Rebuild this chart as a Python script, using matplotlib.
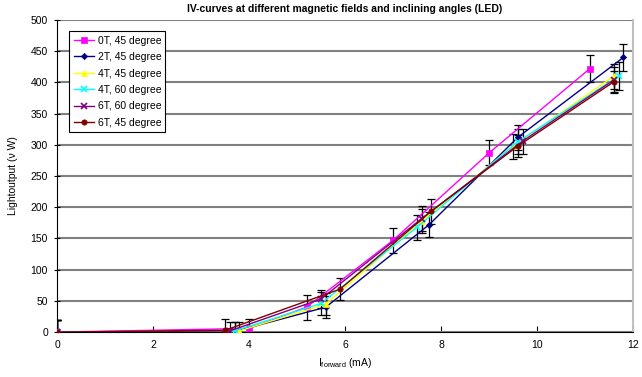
import matplotlib
matplotlib.use("Agg")
import matplotlib.pyplot as plt

plt.rcParams['font.family'] = ['Liberation Sans', 'DejaVu Sans']
plt.rcParams['mathtext.fontset'] = 'custom'
plt.rcParams['mathtext.rm'] = 'Liberation Sans'

title = "IV-curves at different magnetic fields and inclining angles (LED)"
labels = ["0T, 45 degree", "2T, 45 degree", "4T, 45 degree", "4T, 60 degree", "6T, 60 degree", "6T, 45 degree"]

x_0T45 = [0, 4.0, 5.2, 7.0, 9.0, 11.1]
y_0T45 = [0, 6, 40, 147, 287, 422]
e_0T45 = [20, 15, 20, 20, 20, 22]

x_2T45 = [0, 3.7, 5.6, 7.75, 9.6, 11.8]
y_2T45 = [0, 1, 40, 172, 312, 440]
e_2T45 = [20, 15, 18, 20, 20, 22]

x_4T45 = [0, 3.8, 5.6, 7.6, 9.5, 11.6]
y_4T45 = [0, 2, 45, 178, 298, 410]
e_4T45 = [20, 15, 18, 20, 20, 20]

x_4T60 = [0, 3.7, 5.5, 7.5, 9.6, 11.7]
y_4T60 = [0, 2, 46, 168, 305, 410]
e_4T60 = [20, 15, 18, 20, 20, 22]

x_6T60 = [0, 3.6, 5.5, 7.6, 9.7, 11.6]
y_6T60 = [0, 2, 53, 182, 306, 404]
e_6T60 = [20, 15, 15, 20, 20, 20]

x_6T45 = [0, 3.5, 5.9, 7.8, 9.6, 11.6]
y_6T45 = [0, 3, 69, 194, 298, 401]
e_6T45 = [20, 18, 18, 20, 18, 18]

series = [
    (x_0T45, y_0T45, e_0T45, '#FF00FF', 's'),
    (x_2T45, y_2T45, e_2T45, '#000080', 'D'),
    (x_4T45, y_4T45, e_4T45, '#FFFF00', '^'),
    (x_4T60, y_4T60, e_4T60, '#00FFFF', 'x'),
    (x_6T60, y_6T60, e_6T60, '#800080', 'x'),
    (x_6T45, y_6T45, e_6T45, '#800000', 'o'),
]

fig = plt.figure(figsize=(6.42, 3.77), dpi=100)
ax = fig.add_axes([0.0888, 0.119, 0.8972, 0.828])

for (xs, ys, es, c, m), lab in zip(series, labels):
    ax.errorbar(xs, ys, yerr=es, fmt='none', ecolor='black', elinewidth=0.9,
                capsize=3, capthick=0.9, zorder=3)
    ms = {'s': 3.8, 'D': 3.2, '^': 4, 'x': 4.5, 'o': 3.8}[m]
    ax.plot(xs, ys, color=c, marker=m, markersize=ms, linewidth=1.0,
            markeredgewidth=1.2 if m == 'x' else 0.5, markeredgecolor=c,
            label=lab, zorder=4)

ax.set_xlim(0, 12)
ax.set_ylim(0, 500)
ax.set_xticks(range(0, 13, 2))
ax.set_yticks(range(0, 501, 50))
ax.yaxis.grid(True, color='#808080', linewidth=1.5)
ax.set_axisbelow(True)
ax.spines['top'].set_visible(False)
ax.spines['right'].set_color('#c0c0c0')
ax.spines['right'].set_linewidth(1.5)
ax.spines['left'].set_color('black')
ax.spines['bottom'].set_color('black')
ax.tick_params(axis='both', labelsize=7.5, color='black')
ax.tick_params(axis='x', direction='in', length=4, pad=6)
ax.tick_params(axis='y', direction='inout', length=5, pad=4)

ax.set_title(title, fontsize=7.5, fontweight='bold', pad=6)
ax.set_xlabel(r"I$_{\mathrm{forward}}$ (mA)", fontsize=7.5, labelpad=4)
ax.set_ylabel("Lightoutput (ν W)", fontsize=7.5, labelpad=9)

leg = ax.legend(loc='upper left', bbox_to_anchor=(0.0125, 0.98), fontsize=7.5,
                frameon=True, fancybox=False, edgecolor='black', framealpha=1,
                handlelength=2.0, borderpad=0.4, labelspacing=0.62, handletextpad=0.3)
leg.get_frame().set_linewidth(0.8)

fig.savefig("out.png", dpi=100)
